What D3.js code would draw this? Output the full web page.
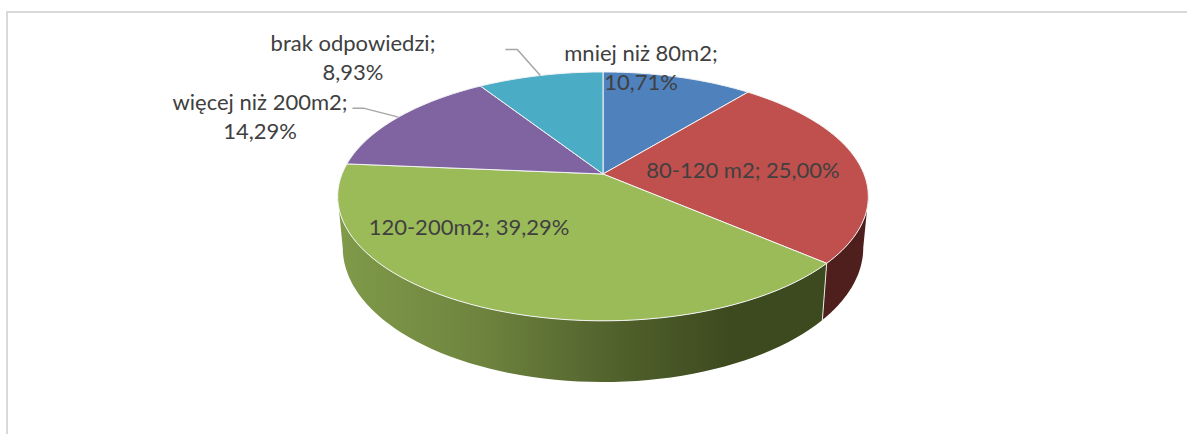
<!DOCTYPE html>
<html><head><meta charset="utf-8">
<script src="https://cdn.jsdelivr.net/npm/d3@7/dist/d3.min.js"></script>
<style>html,body{margin:0;padding:0;background:#fff;overflow:hidden}text{font-family:Lato,"Open Sans",sans-serif;font-size:22px;fill:#404040}</style>
</head><body><svg id="c" width="1187" height="434"></svg>
<script>
const categories = ["mniej niż 80m2","80-120 m2","120-200m2","więcej niż 200m2","brak odpowiedzi"];
const shares = [10.71,25.00,39.29,14.29,8.93];
const shareLabels = ["10,71%","25,00%","39,29%","14,29%","8,93%"];
const colors = ["#4f81bd","#c0504d","#9bbb59","#8064a2","#4bacc6"];

const W=1187,H=434;
const svg=d3.select("#c");
const cx=603, cy=174, rx=261, ry=120.4, k=0.18;
const cyLow=223.5, rxLow=256, ryLow=130;
const top3=t=>{const w=1+k*Math.cos(t);return [cx+rx*Math.sin(t)/w, cy-ry*Math.cos(t)/w];};
const low3=t=>{const w=1+k*Math.cos(t);return [cx+rxLow*Math.sin(t)/w, cyLow-ryLow*Math.cos(t)/w];};
const tangentR=Math.acos(-k), tangentL=2*Math.PI-tangentR;
const arcs=d3.pie().sort(null).value(d=>d)(shares);
const line=d3.line();
const samples=(a,b,f)=>d3.range(0,61).map(i=>f(a+(b-a)*i/60));

const defs=svg.append("defs");
const grad=defs.append("linearGradient").attr("id","gSide").attr("gradientUnits","userSpaceOnUse")
 .attr("x1",340).attr("x2",730).attr("y1",0).attr("y2",0);
[[0,"#7f9a49"],[0.35,"#6f853f"],[0.7,"#51622c"],[1,"#3d4a1f"]].forEach(([o,c])=>grad.append("stop").attr("offset",o).attr("stop-color",c));

svg.append("path").attr("d",`M7 ${H}V12H${W}`).attr("fill","none").attr("stroke","#d9d9d9").attr("stroke-width",2);

// side walls
const sideColors=["#4f1f1e","url(#gSide)"];
[[1,sideColors[0]],[2,sideColors[1]]].forEach(([i,fill])=>{
  const a=Math.max(arcs[i].startAngle,tangentR), b=Math.min(arcs[i].endAngle,tangentL);
  const pts=samples(a,b,top3).concat(samples(b,a,low3));
  svg.append("path").attr("d",line(pts)+"Z").attr("fill",fill).attr("stroke","none");
});
// seam between the red and green walls
const seam=arcs[1].endAngle;
svg.append("path").attr("d",line([top3(seam),low3(seam)])).attr("stroke","#e8ecdc").attr("stroke-width",1).attr("fill","none");

// top face
svg.selectAll("path.s").data(arcs).join("path").attr("class","s")
 .attr("d",d=>line([[cx,cy]].concat(samples(d.startAngle,d.endAngle,top3)))+"Z")
 .attr("fill",(d,i)=>colors[i]).attr("stroke","#f4f4f4").attr("stroke-width",1).attr("stroke-linejoin","round");

// leader lines
const leaderOffsets={3:[[-46,-9],[-35,-9]],4:[[-35,-26],[-23,-26]]};
Object.entries(leaderOffsets).forEach(([i,off])=>{
  const m=(arcs[i].startAngle+arcs[i].endAngle)/2, p=top3(m);
  svg.append("path").attr("d",line([[p[0]+off[0][0],p[1]+off[0][1]],[p[0]+off[1][0],p[1]+off[1][1]],p]))
   .attr("fill","none").attr("stroke","#a6a6a6").attr("stroke-width",1.5);
});

// labels
const labelPlaces=[
 {lines:[0,1],x:641,y:61,dy:29},
 {lines:[0],x:743,y:178},
 {lines:[0],x:469,y:235},
 {lines:[0,1],x:260,y:110,dy:29},
 {lines:[0,1],x:353,y:51,dy:29}
];
labelPlaces.forEach((p,i)=>{
  const first=categories[i]+";", second=shareLabels[i];
  const t=svg.append("text").attr("text-anchor","middle");
  if(p.lines.length===1){t.attr("x",p.x).attr("y",p.y).text(first+" "+second);}
  else{
    t.append("tspan").attr("x",p.x).attr("y",p.y).text(first);
    t.append("tspan").attr("x",p.x).attr("y",p.y+p.dy).text(second);
  }
});
</script></body></html>
